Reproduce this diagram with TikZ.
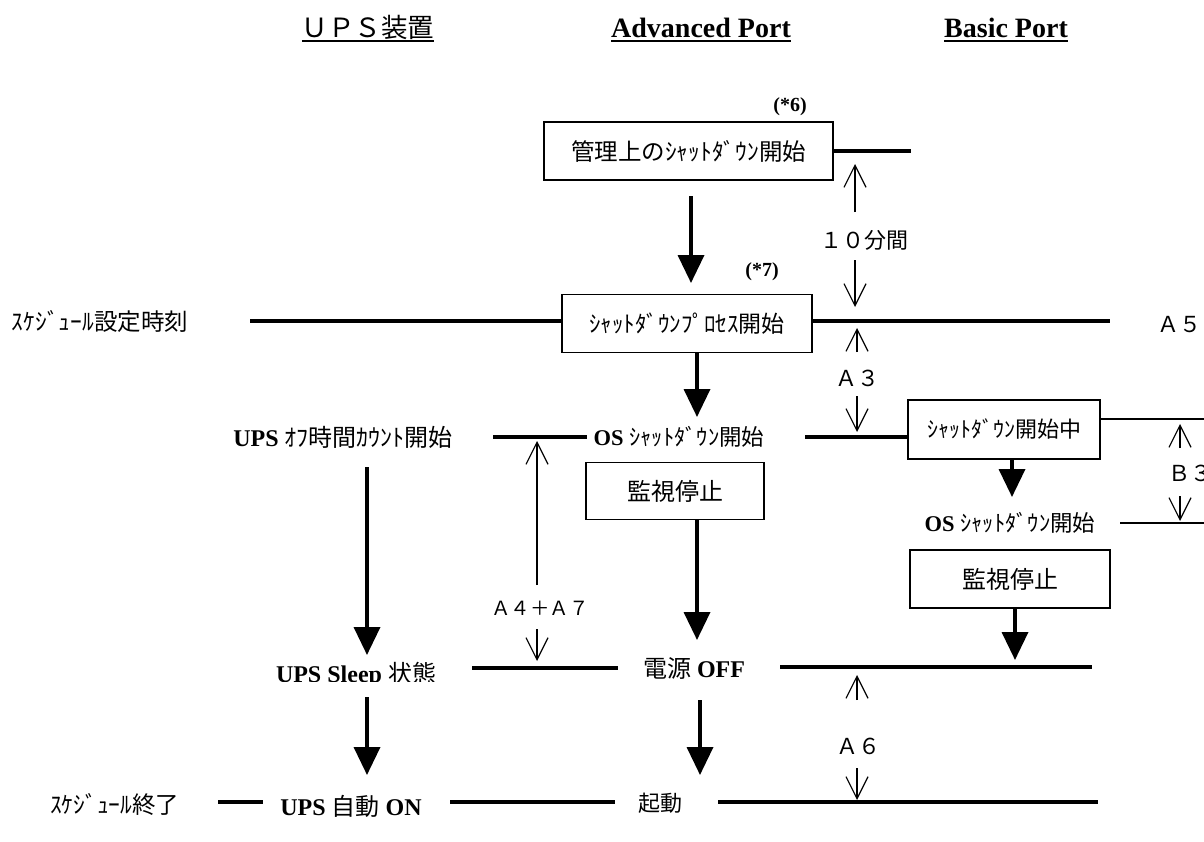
\documentclass[tikz,border=0pt]{standalone}
\usepackage{fontspec}
\setmainfont{Liberation Serif}
\newfontfamily\jp{Noto Sans CJK JP}
\usetikzlibrary{arrows.meta}

\newcommand\sz[1]{\fontsize{#1}{#1}\selectfont}

\tikzset{
  every node/.style={inner sep=0pt, outer sep=0pt},
  box/.style={draw, line width=1.6pt, fill=white},
  hdr/.style={font=\sz{28}\bfseries, anchor=base},
  note/.style={font=\sz{20}\bfseries},
  jtxt/.style={font=\jp\sz{22}},
  mix/.style={font=\sz{24}},
  uline/.style={line width=2.2pt},
  tline/.style={line width=4pt},
  thinline/.style={line width=1.6pt},
  flow/.style={line width=3.6pt, -{Triangle[width=26pt,length=28pt]}},
  dim/.style={line width=1.2pt, -{Straight Barb[width=22pt,length=22pt]}},
}

\begin{document}
\begin{tikzpicture}[x=1pt, y=-1pt]
\useasboundingbox (0,0) rectangle (1204,841);

% column headings
\node[hdr, font=\jp\sz{26.5}] (hups) at (368,37) {ＵＰＳ装置};
\node[hdr] (hadv) at (701,37) {Advanced Port};
\node[hdr] (hbas) at (1006,37) {Basic Port};
\foreach \h in {hups,hadv,hbas}
  \draw[uline] ([yshift=-4pt]\h.base west) -- ([yshift=-4pt]\h.base east);

% administrative shutdown
\node[note] (n6) at (790,107) {(*6)};
\node[box, font=\jp\sz{23.5}, minimum width=289pt, minimum height=58pt] (mgmt) at (688.5,151) {管理上のｼｬｯﾄﾀﾞｳﾝ開始};
\coordinate (mgmtR) at (911,151);
\draw[tline] (mgmt.east) -- (mgmtR);

% ten-minute interval
\node[jtxt] (ten) at (864,240) {１０分間};
\coordinate (tenU1) at (855,212); \coordinate (tenU2) at (855,164);
\coordinate (tenD1) at (855,260); \coordinate (tenD2) at (855,307);
\draw[dim] (tenU1) -- (tenU2);
\draw[dim] (tenD1) -- (tenD2);

% shutdown process start (schedule time)
\node[note] (n7) at (762,272) {(*7)};
\node[font=\jp\sz{23.5}, anchor=west] (sched) at (12,321) {ｽｹｼﾞｭｰﾙ設定時刻};
\node[box, font=\jp\sz{23}, minimum width=250pt, minimum height=58pt] (proc) at (687,323.5) {ｼｬｯﾄﾀﾞｳﾝﾌﾟﾛｾｽ開始};
\coordinate (schedL) at (250,321);
\coordinate (schedR) at (1110,321);
\draw[tline] (schedL) -- (proc.west |- schedL);
\draw[tline] (proc.east |- schedR) -- (schedR);
\node[jtxt, anchor=west] (a5) at (1157,325) {Ａ５};

\coordinate (f1a) at (691,196); \coordinate (f1b) at (691,283);
\draw[flow] (f1a) -- (f1b);

% A3 interval
\node[jtxt] (a3) at (857,378) {Ａ３};
\coordinate (a3U1) at (857,352); \coordinate (a3U2) at (857,328);
\coordinate (a3D1) at (857,396); \coordinate (a3D2) at (857,432);
\draw[dim] (a3U1) -- (a3U2);
\draw[dim] (a3D1) -- (a3D2);

% OS shutdown row
\node[mix] (upsoff) at (343,437) {\textbf{UPS} {\jp ｵﾌ時間ｶｳﾝﾄ開始}};
\node[mix, font=\sz{22.5}] (os1) at (679,437) {\textbf{OS} {\jp ｼｬｯﾄﾀﾞｳﾝ開始}};
\node[box, jtxt, minimum width=192pt, minimum height=59pt] (bsd) at (1004,429.5) {ｼｬｯﾄﾀﾞｳﾝ開始中};
\coordinate (r1a) at (493,437); \coordinate (r1b) at (587,437);
\coordinate (r2a) at (805,437);
\draw[tline] (r1a) -- (r1b);
\draw[tline] (r2a) -- (bsd.west |- r2a);
\coordinate (bsdR) at (1210,419);
\draw[thinline] (bsd.east |- bsdR) -- (bsdR);

\coordinate (f2a) at (697,353); \coordinate (f2b) at (697,417);
\draw[flow] (f2a) -- (f2b);

% B3 interval
\node[jtxt, anchor=west] (b3) at (1168,473) {Ｂ３};
\coordinate (b3U1) at (1180,448); \coordinate (b3U2) at (1180,424);
\coordinate (b3D1) at (1180,496); \coordinate (b3D2) at (1180,521);
\draw[dim] (b3U1) -- (b3U2);
\draw[dim] (b3D1) -- (b3D2);

% basic port OS shutdown
\node[mix, font=\sz{22.5}] (os2) at (1010,523) {\textbf{OS} {\jp ｼｬｯﾄﾀﾞｳﾝ開始}};
\coordinate (os2R1) at (1120,523); \coordinate (os2R2) at (1210,523);
\draw[thinline] (os2R1) -- (os2R2);
\coordinate (f3a) at (1012,459); \coordinate (f3b) at (1012,497);
\draw[flow] (f3a) -- (f3b);

% monitoring stop boxes
\node[box, font=\jp\sz{24}, minimum width=178pt, minimum height=57pt] (mon1) at (675,491) {監視停止};
\node[box, font=\jp\sz{24}, minimum width=200pt, minimum height=58pt] (mon2) at (1010,579) {監視停止};
\coordinate (f4b) at (697,640);
\draw[flow] (mon1.south -| f4b) -- (f4b);
\coordinate (f5b) at (1015,660);
\draw[flow] (mon2.south -| f5b) -- (f5b);

% A4 + A7 interval
\node[font=\jp\sz{19.5}] (a47) at (540,608) {Ａ４＋Ａ７};
\coordinate (a47U1) at (537,585); \coordinate (a47U2) at (537,441);
\coordinate (a47D1) at (537,629); \coordinate (a47D2) at (537,661);
\draw[dim] (a47U1) -- (a47U2);
\draw[dim] (a47D1) -- (a47D2);

% power off row
\begin{scope}
  \clip (250,640) rectangle (470,681);
  \node[mix, anchor=base] (sleep) at (356,682) {\textbf{UPS Sleep} {\jp 状態}};
\end{scope}
\node[mix] (off) at (694,668) {{\jp 電源} \textbf{OFF}};
\coordinate (r3a) at (472,668); \coordinate (r3b) at (618,668);
\coordinate (r4a) at (780,667); \coordinate (r4b) at (1092,667);
\draw[tline] (r3a) -- (r3b);
\draw[tline] (r4a) -- (r4b);

\coordinate (f6a) at (367,467); \coordinate (f6b) at (367,655);
\draw[flow] (f6a) -- (f6b);

% A6 interval
\node[jtxt] (a6) at (858,746) {Ａ６};
\coordinate (a6U1) at (857,700); \coordinate (a6U2) at (857,675);
\coordinate (a6D1) at (857,768); \coordinate (a6D2) at (857,800);
\draw[dim] (a6U1) -- (a6U2);
\draw[dim] (a6D1) -- (a6D2);

% schedule end row
\node[font=\jp\sz{23.5}, anchor=west] (schend) at (50,804) {ｽｹｼﾞｭｰﾙ終了};
\node[mix] (upson) at (351,806) {\textbf{UPS} {\jp 自動} \textbf{ON}};
\node[jtxt] (boot) at (660,803) {起動};
\coordinate (r5a) at (218,802); \coordinate (r5b) at (263,802);
\coordinate (r6a) at (450,802); \coordinate (r6b) at (615,802);
\coordinate (r7a) at (718,802); \coordinate (r7b) at (1098,802);
\draw[tline] (r5a) -- (r5b);
\draw[tline] (r6a) -- (r6b);
\draw[tline] (r7a) -- (r7b);

\coordinate (f7a) at (367,697); \coordinate (f7b) at (367,775);
\coordinate (f8a) at (700,700); \coordinate (f8b) at (700,775);
\draw[flow] (f7a) -- (f7b);
\draw[flow] (f8a) -- (f8b);
\end{tikzpicture}
\end{document}
